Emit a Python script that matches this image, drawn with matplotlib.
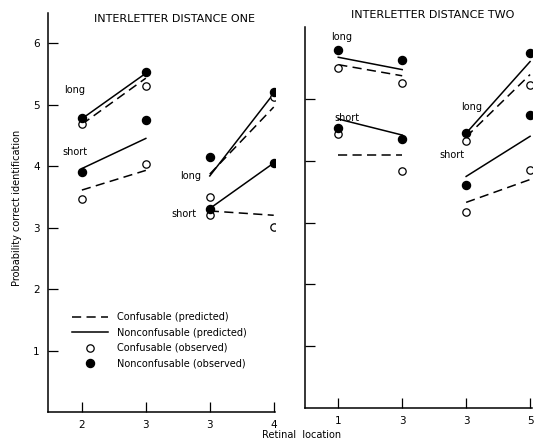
import matplotlib.pyplot as plt
from matplotlib.lines import Line2D

plt.rcParams['font.family'] = 'DejaVu Sans'

# x positions within each panel (two pairs of retinal locations)
pos = [0, 1, 2, 3]
loc_labels_one = ['2', '3', '3', '4']
loc_labels_two = ['1', '3', '3', '5']

# interletter distance one
one_long_conf_obs = [4.68, 5.30, 3.50, 5.12]
one_long_nonc_obs = [4.79, 5.53, 4.15, 5.21]
one_short_conf_obs = [3.46, 4.03, 3.20, 3.01]
one_short_nonc_obs = [3.91, 4.75, 3.31, 4.05]
one_long_conf_pred = [4.68, 5.43, 3.87, 4.96]
one_long_nonc_pred = [4.77, 5.51, 3.84, 5.18]
one_short_conf_pred = [3.61, 3.93, 3.27, 3.20]
one_short_nonc_pred = [3.96, 4.45, 3.31, 4.05]

# interletter distance two
two_long_conf_obs = [5.51, 5.26, 4.33, 5.23]
two_long_nonc_obs = [5.80, 5.64, 4.45, 5.75]
two_short_conf_obs = [4.44, 3.84, 3.18, 3.86]
two_short_nonc_obs = [4.53, 4.35, 3.61, 4.75]
two_long_conf_pred = [5.56, 5.38, 4.39, 5.40]
two_long_nonc_pred = [5.68, 5.48, 4.45, 5.61]
two_short_conf_pred = [4.10, 4.10, 3.33, 3.70]
two_short_nonc_pred = [4.68, 4.42, 3.75, 4.40]

# label positions (x, y) for "long"/"short"
one_text = [('long', -0.11, 5.24), ('short', -0.11, 4.23),
            ('long', 1.70, 3.84), ('short', 1.60, 3.22)]
two_text = [('long', 0.05, 6.01), ('short', 0.14, 4.70),
            ('long', 2.08, 4.88), ('short', 1.78, 4.10)]

W, H = 538, 442
fig = plt.figure(figsize=(W / 100, H / 100), dpi=100)
ax1 = fig.add_axes([48 / W, 1 - 412 / H, 227 / W, 399 / H])
ax2 = fig.add_axes([305 / W, 1 - 408 / H, 227 / W, 381 / H])

dash = (0, (6, 3.5))


def draw(ax, lco, lno, sco, sno, lcp, lnp, scp, snp):
    for g in [(0, 1), (2, 3)]:
        xs = [pos[i] for i in g]
        for pred, ls in [(lcp, dash), (scp, dash), (lnp, '-'), (snp, '-')]:
            ax.plot(xs, [pred[i] for i in g], color='black', lw=1.1, ls=ls)
        for obs in (lco, sco):
            ax.plot(xs, [obs[i] for i in g], 'o', ms=5.3, mfc='white', mec='black', mew=0.9, ls='none')
        for obs in (lno, sno):
            ax.plot(xs, [obs[i] for i in g], 'o', ms=5.8, color='black', ls='none')


draw(ax1, one_long_conf_obs, one_long_nonc_obs, one_short_conf_obs, one_short_nonc_obs,
     one_long_conf_pred, one_long_nonc_pred, one_short_conf_pred, one_short_nonc_pred)
draw(ax2, two_long_conf_obs, two_long_nonc_obs, two_short_conf_obs, two_short_nonc_obs,
     two_long_conf_pred, two_long_nonc_pred, two_short_conf_pred, two_short_nonc_pred)

for t, x, y in one_text:
    ax1.text(x, y, t, fontsize=7, ha='center', va='center')
for t, x, y in two_text:
    ax2.text(x, y, t, fontsize=7, ha='center', va='center')

ax1.set_xlim(-0.53, 3.02)
ax1.set_ylim(0, 6.49)
ax1.set_yticks([1, 2, 3, 4, 5, 6])
ax1.set_xticks(pos)
ax1.set_xticklabels(loc_labels_one)

ax2.set_xlim(-0.52, 3.03)
ax2.set_ylim(0, 6.17)
ax2.set_yticks([1, 2, 3, 4, 5])
ax2.set_yticklabels([])
ax2.set_xticks(pos)
ax2.set_xticklabels(loc_labels_two)

for ax in (ax1, ax2):
    for s in ('top', 'right'):
        ax.spines[s].set_visible(False)
    for s in ('left', 'bottom'):
        ax.spines[s].set_linewidth(1.1)
    ax.tick_params(direction='in', length=7, width=0.9, labelsize=7.5, pad=6)

handles = [Line2D([], [], color='black', lw=1.1, ls=dash),
           Line2D([], [], color='black', lw=1.1, ls='-'),
           Line2D([], [], marker='o', ms=5.3, mfc='white', mec='black', mew=0.9, ls='none'),
           Line2D([], [], marker='o', ms=5.8, color='black', ls='none')]
labels = ['Confusable (predicted)', 'Nonconfusable (predicted)',
          'Confusable (observed)', 'Nonconfusable (observed)']
ax1.legend(handles, labels, loc='upper left', bbox_to_anchor=(0.106, 0.25),
           frameon=False, fontsize=7, handlelength=3.7, handletextpad=0.9,
           labelspacing=0.55, borderpad=0, borderaxespad=0)

fig.text(175 / W, 1 - 19 / H, 'INTERLETTER DISTANCE ONE', fontsize=8, ha='center', va='center')
fig.text(433 / W, 1 - 15 / H, 'INTERLETTER DISTANCE TWO', fontsize=8, ha='center', va='center')
fig.text(17 / W, 1 - 208 / H, 'Probability correct identification', fontsize=7,
         rotation=90, ha='center', va='center')
fig.text(302 / W, 1 - 435 / H, 'Retinal  location', fontsize=7, ha='center', va='center')

fig.savefig('out.png', dpi=100)
